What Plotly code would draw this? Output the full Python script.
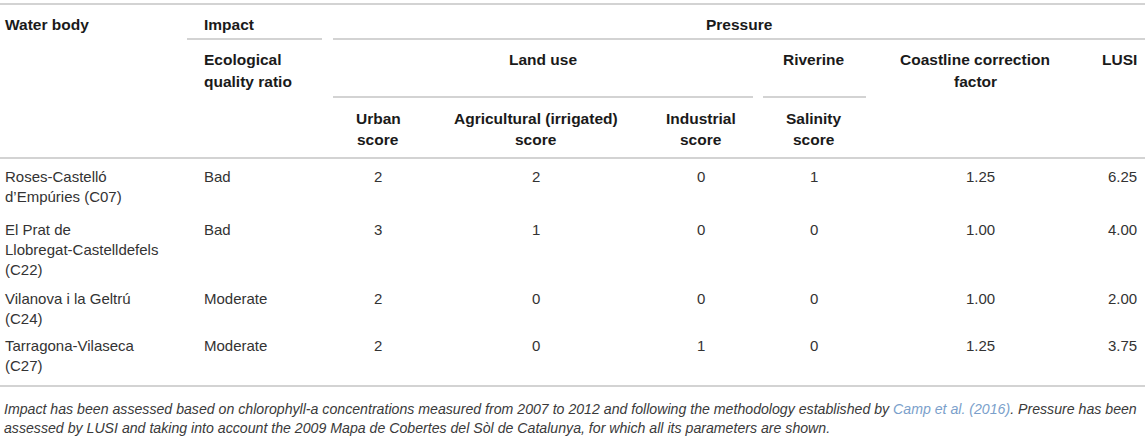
import plotly.graph_objects as go

# table content
water_bodies = ["Roses-Castelló<br>d’Empúries (C07)",
                "El Prat de<br>Llobregat-Castelldefels<br>(C22)",
                "Vilanova i la Geltrú<br>(C24)",
                "Tarragona-Vilaseca<br>(C27)"]
impact = ["Bad", "Bad", "Moderate", "Moderate"]
urban_score = [2, 3, 2, 2]
agricultural_score = [2, 1, 0, 0]
industrial_score = [0, 0, 0, 1]
salinity_score = [1, 0, 0, 0]
coastline_factor = [1.25, 1.00, 1.00, 1.25]
lusi = [6.25, 4.00, 2.00, 3.75]

caption_lines = [
    "Impact has been assessed based on chlorophyll-a concentrations measured from 2007 to 2012 and following the methodology established by "
    "<span style='color:#7b9fcb'>Camp et al. (2016)</span>. Pressure has been",
    "assessed by LUSI and taking into account the 2009 Mapa de Cobertes del Sòl de Catalunya, for which all its parameters are shown.",
]

# layout (pixel coordinates of the page)
W, H = 1145, 439
FONT = "Liberation Sans, Arial, Helvetica, sans-serif"
TXT = "#333333"
HDR = "#1a1a1a"
RULE = "#c4c4c4"
row_y = [176, 229, 298, 345]
line_h = 20
head_lh = 21

fig = go.Figure()
annotations = []


def add_text(x, y, text, anchor="left", bold=False, size=15, color=TXT, lh=line_h):
    for i, part in enumerate(text.split("<br>")):
        annotations.append(dict(
            x=x, y=y + i * lh, xref="x", yref="y", text="<b>%s</b>" % part if bold else part,
            showarrow=False, xanchor=anchor, yanchor="middle",
            font=dict(family=FONT, size=size, color=HDR if bold else color)))


def add_rule(x0, x1, y):
    fig.add_shape(type="line", xref="x", yref="y", x0=x0, x1=x1, y0=y, y1=y,
                  line=dict(color=RULE, width=1.6))


# header
add_text(3, 24, "Water body", bold=True, size=15.5)
add_text(202, 24, "Impact", bold=True, size=15.5)
add_text(739, 24, "Pressure", anchor="center", bold=True, size=15.5)
add_text(202, 59, "Ecological<br>quality ratio", bold=True, size=15.5, lh=head_lh + 1)
add_text(543, 59, "Land use", anchor="center", bold=True, size=15.5)
add_text(814, 59, "Riverine", anchor="center", bold=True, size=15.5)
add_text(975, 59, "Coastline correction<br>factor", anchor="center", bold=True, size=15.5, lh=head_lh + 1)
add_text(1139, 59, "LUSI", anchor="right", bold=True, size=15.5)
add_text(378, 118, "Urban<br>score", anchor="center", bold=True, size=15.5, lh=head_lh)
add_text(536, 118, "Agricultural (irrigated)<br>score", anchor="center", bold=True, size=15.5, lh=head_lh)
add_text(701, 118, "Industrial<br>score", anchor="center", bold=True, size=15.5, lh=head_lh)
add_text(814, 118, "Salinity<br>score", anchor="center", bold=True, size=15.5, lh=head_lh)

# rules
add_rule(0, W, 4)
add_rule(187, 322, 39)
add_rule(333, W, 39)
add_rule(333, 753, 97)
add_rule(763, 866, 97)
add_rule(0, W, 158)
add_rule(0, W, 386)

# body rows
for i, y in enumerate(row_y):
    add_text(3, y, water_bodies[i])
    add_text(202, y, impact[i])
    add_text(378, y, str(urban_score[i]), anchor="center")
    add_text(536, y, str(agricultural_score[i]), anchor="center")
    add_text(701, y, str(industrial_score[i]), anchor="center")
    add_text(814, y, str(salinity_score[i]), anchor="center")
    add_text(980, y, "%.2f" % coastline_factor[i], anchor="center")
    add_text(1139, y, "%.2f" % lusi[i], anchor="right")

# caption
for i, line in enumerate(caption_lines):
    add_text(2, 409 + i * 19, "<i>%s</i>" % line, size=14.15, color="#3a3a3a")

fig.update_layout(
    width=W, height=H, margin=dict(l=0, r=0, t=0, b=0),
    paper_bgcolor="white", plot_bgcolor="white",
    xaxis=dict(range=[0, W], visible=False, fixedrange=True),
    yaxis=dict(range=[H, 0], visible=False, fixedrange=True),
    annotations=annotations, showlegend=False,
)

# the page has a default body margin, drop it so the figure fills the window
fig.write_html("out.html", config={"displayModeBar": False},
               post_script="document.body.style.margin='0px';")
